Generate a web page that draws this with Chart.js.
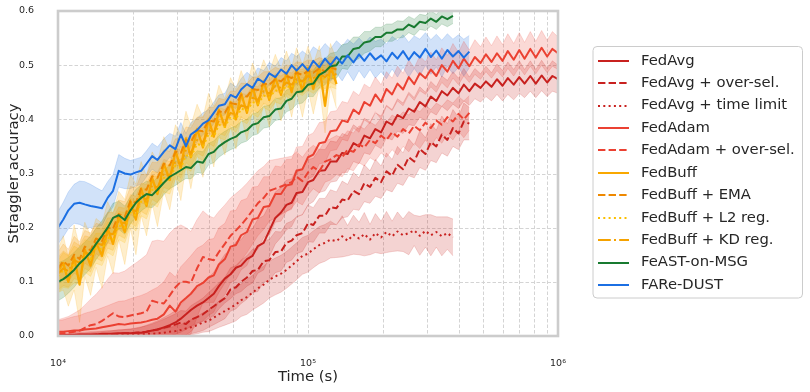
<!DOCTYPE html>
<html><head><meta charset="utf-8">
<script src="https://cdn.jsdelivr.net/npm/chart.js@4.4.1/dist/chart.umd.min.js"></script>
<style>html,body{margin:0;padding:0;background:#fff;}#wrap{width:810px;height:392px;}</style>
</head><body><div id="wrap"><canvas id="c" width="810" height="392"></canvas></div>
<script>
// ---- data (time in seconds, accuracy) ----
const TIMES = [10000,10500,11000,11600,12200,12800,13500,14200,15000,15800,
16600,17500,18500,19500,20500,21500,22600,23800,25000,26500,
28000,29500,31000,32500,34000,36000,38000,40000,42000,44000,
46500,49000,51500,54000,57000,60000,63000,66500,70000,74000,
78000,82000,86000,90000,95000,100000,105000,111000,117000,123000,
130000,137000,144000,152000,160000,168000,177000,186000,196000,206000,
217000,228000,240000,253000,266000,280000,295000,310000,326000,343000,
361000,380000,400000,420000,442000,465000,490000,515000,542000,570000,
600000,630000,665000,700000,735000,775000,815000,860000,905000,950000,
1000000];

const Y_TICKS = [0, 0.1, 0.2, 0.3, 0.4, 0.5, 0.6];
const X_GRID_TICKS = [10000,20000,30000,40000,50000,60000,70000,80000,90000,
100000,200000,300000,400000,500000,600000,700000,800000,900000,1000000];
const X_TICK_LABELS = {10000:'10\u2074', 100000:'10\u2075', 1000000:'10\u2076'};

const FEDAVG = [
0.002,0.002,0.002,0.002,0.003,0.003,0.003,0.003,0.004,0.004,
0.004,0.005,0.005,0.005,0.006,0.006,0.008,0.010,0.012,0.016,
0.020,0.025,0.032,0.040,0.048,0.056,0.062,0.070,0.078,0.092,
0.106,0.114,0.126,0.130,0.142,0.148,0.166,0.172,0.194,0.218,
0.228,0.242,0.246,0.264,0.266,0.284,0.288,0.305,0.306,0.322,
0.322,0.338,0.336,0.356,0.350,0.370,0.365,0.382,0.376,0.396,
0.390,0.408,0.402,0.420,0.414,0.432,0.424,0.442,0.434,0.452,
0.444,0.458,0.448,0.464,0.452,0.466,0.458,0.470,0.460,0.474,
0.462,0.476,0.464,0.478,0.466,0.480,0.466,0.481,0.468,0.480,
0.474];
const FEDAVG_SPREAD = [
0.003,0.003,0.003,0.004,0.004,0.004,0.005,0.005,0.005,0.006,
0.006,0.007,0.007,0.008,0.008,0.010,0.012,0.014,0.016,0.018,
0.020,0.022,0.025,0.028,0.030,0.032,0.035,0.038,0.040,0.042,
0.045,0.045,0.048,0.048,0.050,0.050,0.050,0.050,0.048,0.048,
0.046,0.046,0.044,0.044,0.042,0.042,0.040,0.040,0.038,0.038,
0.036,0.036,0.034,0.034,0.032,0.032,0.030,0.030,0.030,0.030,
0.028,0.030,0.028,0.030,0.026,0.028,0.026,0.028,0.026,0.028,
0.028,0.030,0.028,0.030,0.026,0.028,0.026,0.028,0.026,0.028,
0.028,0.030,0.028,0.030,0.026,0.028,0.026,0.028,0.026,0.028,
0.026];

const FEDAVG_OVERSEL = [
0.001,0.001,0.001,0.002,0.002,0.002,0.002,0.003,0.003,0.003,
0.004,0.004,0.005,0.005,0.006,0.007,0.008,0.010,0.012,0.015,
0.018,0.021,0.025,0.022,0.030,0.035,0.040,0.048,0.055,0.062,
0.070,0.086,0.090,0.100,0.108,0.120,0.122,0.138,0.140,0.155,
0.156,0.172,0.176,0.186,0.190,0.208,0.205,0.222,0.222,0.238,
0.236,0.252,0.250,0.268,0.262,0.282,0.275,0.292,0.284,0.304,
0.296,0.316,0.308,0.330,0.322,0.345,0.336,0.358,0.350,0.372,
0.362,0.384,0.374,0.396,0.392];
const FEDAVG_OVERSEL_SPREAD = [
0.002,0.002,0.002,0.003,0.003,0.003,0.004,0.004,0.005,0.005,
0.006,0.006,0.007,0.008,0.009,0.010,0.011,0.012,0.014,0.016,
0.018,0.020,0.022,0.024,0.026,0.028,0.030,0.032,0.034,0.036,
0.038,0.040,0.040,0.040,0.040,0.040,0.040,0.038,0.038,0.038,
0.036,0.036,0.036,0.034,0.034,0.034,0.032,0.032,0.032,0.032,
0.030,0.034,0.030,0.034,0.030,0.034,0.030,0.034,0.030,0.034,
0.030,0.034,0.030,0.034,0.030,0.034,0.030,0.034,0.030,0.034,
0.030,0.034,0.030,0.034,0.030];

const FEDAVG_TIMELIMIT = [
0.001,0.001,0.001,0.001,0.001,0.001,0.001,0.001,0.002,0.002,
0.002,0.002,0.002,0.003,0.003,0.003,0.004,0.004,0.005,0.006,
0.008,0.009,0.011,0.014,0.016,0.020,0.025,0.028,0.034,0.040,
0.046,0.052,0.058,0.066,0.072,0.080,0.088,0.095,0.104,0.110,
0.115,0.122,0.130,0.138,0.148,0.152,0.160,0.168,0.172,0.178,
0.175,0.184,0.176,0.187,0.180,0.188,0.178,0.190,0.182,0.192,
0.184,0.193,0.186,0.190,0.195,0.185,0.194,0.186,0.192,0.184,
0.190,0.182];
const FEDAVG_TIMELIMIT_SPREAD = [
0.002,0.002,0.002,0.002,0.002,0.002,0.002,0.002,0.002,0.002,
0.002,0.003,0.003,0.003,0.004,0.004,0.005,0.005,0.006,0.007,
0.008,0.009,0.010,0.012,0.014,0.016,0.018,0.020,0.022,0.024,
0.026,0.028,0.030,0.030,0.032,0.032,0.034,0.034,0.034,0.034,
0.034,0.034,0.034,0.034,0.034,0.034,0.034,0.034,0.034,0.034,
0.030,0.038,0.028,0.036,0.030,0.040,0.028,0.036,0.030,0.038,
0.028,0.036,0.030,0.040,0.028,0.036,0.030,0.038,0.028,0.036,
0.030,0.034];

const FEDADAM = [
0.008,0.008,0.009,0.010,0.010,0.012,0.013,0.014,0.016,0.018,
0.020,0.022,0.021,0.023,0.024,0.025,0.027,0.030,0.032,0.040,
0.056,0.045,0.062,0.070,0.078,0.092,0.098,0.108,0.112,0.132,
0.142,0.165,0.168,0.186,0.192,0.215,0.218,0.238,0.240,0.262,
0.262,0.278,0.280,0.305,0.308,0.330,0.335,0.356,0.358,0.378,
0.380,0.398,0.395,0.418,0.410,0.432,0.425,0.446,0.432,0.456,
0.446,0.466,0.455,0.478,0.465,0.485,0.476,0.492,0.480,0.500,
0.488,0.508,0.494,0.512,0.498,0.515,0.504,0.520,0.506,0.522,
0.508,0.526,0.510,0.528,0.512,0.530,0.514,0.532,0.516,0.530,
0.522];
const FEDADAM_SPREAD = [
0.020,0.022,0.024,0.026,0.028,0.030,0.032,0.034,0.036,0.038,
0.040,0.042,0.044,0.046,0.048,0.050,0.052,0.055,0.058,0.060,
0.062,0.064,0.066,0.068,0.070,0.070,0.070,0.070,0.068,0.068,
0.066,0.066,0.064,0.064,0.062,0.060,0.058,0.056,0.054,0.052,
0.050,0.048,0.046,0.044,0.042,0.040,0.040,0.038,0.038,0.036,
0.036,0.035,0.035,0.034,0.034,0.033,0.033,0.032,0.032,0.032,
0.030,0.032,0.030,0.032,0.030,0.032,0.030,0.032,0.030,0.032,
0.030,0.032,0.030,0.032,0.030,0.032,0.030,0.032,0.030,0.032,
0.030,0.032,0.030,0.032,0.030,0.032,0.030,0.032,0.030,0.032,
0.030];

const FEDADAM_OVERSEL = [
0.005,0.005,0.006,0.008,0.010,0.015,0.020,0.022,0.028,0.035,
0.042,0.036,0.035,0.038,0.040,0.042,0.045,0.065,0.062,0.060,
0.075,0.090,0.100,0.100,0.098,0.125,0.146,0.142,0.140,0.155,
0.170,0.185,0.195,0.205,0.218,0.232,0.245,0.255,0.268,0.272,
0.276,0.280,0.284,0.294,0.286,0.302,0.312,0.304,0.322,0.326,
0.334,0.330,0.344,0.340,0.354,0.348,0.362,0.356,0.370,0.362,
0.376,0.368,0.382,0.374,0.388,0.380,0.394,0.384,0.398,0.390,
0.404,0.396,0.410,0.400,0.412];
const FEDADAM_OVERSEL_SPREAD = [
0.025,0.028,0.030,0.034,0.038,0.042,0.048,0.055,0.062,0.070,
0.075,0.080,0.085,0.090,0.095,0.100,0.105,0.110,0.115,0.115,
0.115,0.110,0.105,0.100,0.095,0.090,0.085,0.080,0.078,0.075,
0.072,0.070,0.068,0.066,0.064,0.062,0.060,0.058,0.056,0.054,
0.052,0.050,0.048,0.046,0.044,0.042,0.040,0.040,0.038,0.038,
0.036,0.036,0.035,0.035,0.034,0.034,0.033,0.033,0.032,0.032,
0.032,0.034,0.032,0.034,0.032,0.034,0.032,0.034,0.032,0.034,
0.032,0.034,0.032,0.034,0.032];

const FEDBUFF = [
0.120,0.135,0.100,0.145,0.095,0.160,0.130,0.172,0.148,0.198,
0.170,0.222,0.192,0.248,0.215,0.272,0.240,0.292,0.262,0.318,
0.288,0.342,0.310,0.365,0.330,0.382,0.348,0.400,0.368,0.418,
0.386,0.432,0.400,0.448,0.412,0.460,0.426,0.470,0.436,0.478,
0.445,0.486,0.450,0.492,0.452,0.495,0.456,0.498,0.425,0.500,
0.465];
const FEDBUFF_SPREAD = [
0.040,0.050,0.045,0.060,0.070,0.050,0.055,0.045,0.060,0.050,
0.055,0.045,0.060,0.050,0.065,0.050,0.055,0.048,0.060,0.050,
0.055,0.048,0.060,0.050,0.058,0.046,0.055,0.048,0.056,0.045,
0.052,0.045,0.055,0.042,0.050,0.044,0.052,0.040,0.050,0.042,
0.048,0.040,0.046,0.040,0.048,0.040,0.046,0.038,0.050,0.040,
0.045];
const FEDBUFF_EMA = [
0.125,0.138,0.130,0.150,0.142,0.165,0.158,0.180,0.175,0.200,
0.198,0.225,0.220,0.250,0.246,0.272,0.270,0.295,0.292,0.318,
0.315,0.340,0.338,0.362,0.358,0.380,0.378,0.398,0.396,0.415,
0.412,0.430,0.428,0.445,0.442,0.456,0.454,0.466,0.464,0.474,
0.470,0.480,0.476,0.486,0.482,0.490,0.486,0.494,0.488,0.496,
0.492];
const FEDBUFF_L2 = [
0.110,0.122,0.118,0.132,0.128,0.148,0.142,0.162,0.160,0.182,
0.178,0.204,0.200,0.228,0.222,0.248,0.244,0.270,0.266,0.292,
0.288,0.314,0.310,0.334,0.330,0.355,0.350,0.372,0.368,0.390,
0.386,0.405,0.400,0.420,0.416,0.432,0.428,0.444,0.440,0.454,
0.450,0.462,0.458,0.470,0.466,0.474,0.470,0.478,0.474,0.480,
0.476];
const FEDBUFF_KD = [
0.115,0.125,0.120,0.140,0.135,0.155,0.150,0.172,0.168,0.190,
0.188,0.212,0.208,0.235,0.230,0.256,0.252,0.278,0.274,0.300,
0.296,0.322,0.318,0.344,0.338,0.362,0.358,0.380,0.376,0.398,
0.394,0.412,0.408,0.426,0.422,0.440,0.436,0.452,0.448,0.462,
0.458,0.468,0.464,0.474,0.470,0.480,0.476,0.484,0.478,0.488,
0.482];
const FEDBUFF_VARIANT_SPREAD = [
0.030,0.032,0.030,0.034,0.032,0.030,0.032,0.028,0.030,0.028,
0.030,0.026,0.028,0.026,0.028,0.026,0.028,0.026,0.028,0.026,
0.026,0.024,0.026,0.024,0.026,0.024,0.026,0.024,0.026,0.024,
0.024,0.022,0.024,0.022,0.024,0.022,0.024,0.022,0.024,0.022,
0.022,0.020,0.022,0.020,0.022,0.020,0.022,0.020,0.022,0.020,
0.020];

const FEAST = [
0.100,0.105,0.112,0.122,0.134,0.143,0.155,0.170,0.185,0.200,
0.218,0.223,0.214,0.232,0.246,0.255,0.262,0.260,0.270,0.283,
0.294,0.300,0.306,0.312,0.310,0.322,0.320,0.336,0.340,0.350,
0.358,0.364,0.368,0.376,0.380,0.390,0.393,0.404,0.406,0.418,
0.420,0.434,0.438,0.450,0.452,0.464,0.466,0.482,0.488,0.498,
0.500,0.516,0.516,0.530,0.532,0.542,0.544,0.552,0.552,0.560,
0.560,0.566,0.566,0.575,0.570,0.580,0.578,0.586,0.580,0.590,
0.585,0.591];
const FEAST_SPREAD = [
0.035,0.034,0.033,0.032,0.031,0.030,0.030,0.029,0.028,0.028,
0.027,0.026,0.026,0.025,0.025,0.024,0.024,0.023,0.023,0.022,
0.022,0.022,0.021,0.021,0.020,0.020,0.020,0.020,0.020,0.020,
0.020,0.020,0.020,0.020,0.020,0.020,0.020,0.020,0.020,0.020,
0.020,0.020,0.020,0.022,0.022,0.022,0.024,0.024,0.024,0.024,
0.024,0.022,0.024,0.022,0.020,0.020,0.018,0.018,0.018,0.016,
0.016,0.016,0.015,0.015,0.015,0.014,0.014,0.014,0.014,0.014,
0.014,0.014];

const FAREDUST = [
0.200,0.215,0.232,0.244,0.246,0.243,0.240,0.238,0.236,0.255,
0.268,0.305,0.300,0.298,0.302,0.305,0.318,0.332,0.325,0.340,
0.352,0.345,0.372,0.350,0.372,0.380,0.392,0.398,0.412,0.425,
0.428,0.445,0.440,0.455,0.465,0.458,0.475,0.468,0.485,0.478,
0.492,0.484,0.500,0.490,0.502,0.490,0.508,0.496,0.512,0.500,
0.515,0.503,0.518,0.505,0.520,0.508,0.522,0.510,0.518,0.507,
0.523,0.512,0.526,0.510,0.524,0.514,0.530,0.515,0.527,0.512,
0.528,0.516,0.526,0.514,0.525];
const FAREDUST_SPREAD = [
0.030,0.032,0.034,0.036,0.040,0.042,0.040,0.036,0.032,0.030,
0.030,0.030,0.028,0.026,0.025,0.025,0.024,0.024,0.024,0.024,
0.022,0.024,0.022,0.024,0.022,0.022,0.020,0.020,0.020,0.020,
0.020,0.022,0.020,0.020,0.022,0.020,0.020,0.022,0.020,0.020,
0.022,0.024,0.022,0.026,0.024,0.028,0.026,0.030,0.028,0.030,
0.030,0.032,0.030,0.034,0.030,0.032,0.030,0.034,0.030,0.032,
0.030,0.034,0.030,0.032,0.030,0.034,0.030,0.032,0.030,0.034,
0.030,0.032,0.030,0.034,0.030];

const LABELS = ['FedAvg','FedAvg + over-sel.','FedAvg + time limit','FedAdam','FedAdam + over-sel.',
  'FedBuff','FedBuff + EMA','FedBuff + L2 reg.','FedBuff + KD reg.','FeAST-on-MSG','FARe-DUST'];
const VALUES = [FEDAVG, FEDAVG_OVERSEL, FEDAVG_TIMELIMIT, FEDADAM, FEDADAM_OVERSEL,
  FEDBUFF, FEDBUFF_EMA, FEDBUFF_L2, FEDBUFF_KD, FEAST, FAREDUST];
const SPREADS = [FEDAVG_SPREAD, FEDAVG_OVERSEL_SPREAD, FEDAVG_TIMELIMIT_SPREAD, FEDADAM_SPREAD, FEDADAM_OVERSEL_SPREAD,
  FEDBUFF_SPREAD, FEDBUFF_VARIANT_SPREAD, FEDBUFF_VARIANT_SPREAD, FEDBUFF_VARIANT_SPREAD, FEAST_SPREAD, FAREDUST_SPREAD];

// ---- styles ----
const DASHED = [7.4, 3.2], DOTTED = [2, 3.3], DASHDOT = [12.8, 3.2, 2, 3.2];
const COLORS = ['#c8211f','#c8211f','#c8211f','#eb4132','#eb4132',
  '#f9a800','#ee8800','#fbbf00','#f5a200','#187a30','#1b6fe3'];
const DASHES = [[], DASHED, DOTTED, [], DASHED, [], DASHED, DOTTED, DASHDOT, [], []];
const WIDTHS = [2, 2, 2, 2, 2, 2.3, 2, 2, 2, 2, 2];

function rgba(hex, a) {
  const n = parseInt(hex.slice(1), 16);
  return `rgba(${(n>>16)&255},${(n>>8)&255},${n&255},${a})`;
}

const datasets = [];
// bands
VALUES.forEach((vals, k) => {
  const sp = SPREADS[k];
  const up = vals.map((v, i) => ({x: TIMES[i], y: v + sp[i]}));
  const lo = vals.map((v, i) => ({x: TIMES[i], y: Math.max(0, v - sp[i])}));
  const upIdx = datasets.length;
  const edge = rgba(COLORS[k], 0.22);
  datasets.push({data: up, borderColor: edge, borderWidth: 0.8, pointRadius: 0, fill: false, order: 200 + k, tension: 0});
  datasets.push({data: lo, borderColor: edge, borderWidth: 0.8, pointRadius: 0, order: 200 + k, tension: 0,
    fill: {target: upIdx, above: rgba(COLORS[k], 0.2), below: rgba(COLORS[k], 0.2)}});
});
// lines
VALUES.forEach((vals, k) => {
  datasets.push({
    label: LABELS[k],
    data: vals.map((v, i) => ({x: TIMES[i], y: v})),
    borderColor: COLORS[k], borderWidth: WIDTHS[k], borderDash: DASHES[k],
    borderJoinStyle: 'round', borderCapStyle: 'butt',
    pointRadius: 0, fill: false, tension: 0, order: 100 - k
  });
});

const TEXT = '#262626';
const FONT = "'DejaVu Sans', sans-serif";

const gridPlugin = {
  id: 'gridPlugin',
  beforeDatasetsDraw(chart) {
    const {ctx, chartArea: a, scales: {x, y}} = chart;
    ctx.save();
    ctx.strokeStyle = '#d4d4d4';
    ctx.lineWidth = 1;
    ctx.setLineDash([3.5, 2]);
    Y_TICKS.forEach(v => {
      const py = Math.round(y.getPixelForValue(v)) + 0.5;
      ctx.beginPath(); ctx.moveTo(a.left, py); ctx.lineTo(a.right, py); ctx.stroke();
    });
    X_GRID_TICKS.forEach(v => {
      const px = Math.round(x.getPixelForValue(v)) + 0.5;
      ctx.beginPath(); ctx.moveTo(px, a.top); ctx.lineTo(px, a.bottom); ctx.stroke();
    });
    ctx.restore();
  },
  afterDatasetsDraw(chart) {
    const {ctx, chartArea: a} = chart;
    ctx.save();
    ctx.strokeStyle = '#cccccc';
    ctx.lineWidth = 2.6;
    ctx.strokeRect(a.left, a.top, a.right - a.left, a.bottom - a.top);
    ctx.restore();
  }
};

const legendPlugin = {
  id: 'customLegend',
  afterDraw(chart) {
    const ctx = chart.ctx;
    ctx.save();
    const bx = 593, by = 46.5, bw = 209.5, bh = 251.5, r = 4;
    ctx.beginPath();
    ctx.moveTo(bx + r, by); ctx.lineTo(bx + bw - r, by); ctx.arcTo(bx + bw, by, bx + bw, by + r, r);
    ctx.lineTo(bx + bw, by + bh - r); ctx.arcTo(bx + bw, by + bh, bx + bw - r, by + bh, r);
    ctx.lineTo(bx + r, by + bh); ctx.arcTo(bx, by + bh, bx, by + bh - r, r);
    ctx.lineTo(bx, by + r); ctx.arcTo(bx, by, bx + r, by, r);
    ctx.closePath();
    ctx.fillStyle = 'rgba(255,255,255,0.85)';
    ctx.fill();
    ctx.strokeStyle = '#cccccc'; ctx.lineWidth = 1; ctx.stroke();
    ctx.font = `14.8px ${FONT}`;
    ctx.textBaseline = 'middle';
    ctx.textAlign = 'left';
    LABELS.forEach((lab, k) => {
      const yy = 60.7 + k * 22.43;
      ctx.beginPath();
      ctx.setLineDash(DASHES[k]);
      ctx.strokeStyle = COLORS[k]; ctx.lineWidth = 2;
      ctx.moveTo(598, Math.round(yy)); ctx.lineTo(629, Math.round(yy));
      ctx.stroke();
      ctx.setLineDash([]);
      ctx.fillStyle = TEXT;
      ctx.fillText(lab, 641, yy);
    });
    ctx.restore();
  }
};

new Chart(document.getElementById('c'), {
  type: 'line',
  data: {datasets},
  plugins: [gridPlugin, legendPlugin],
  options: {
    responsive: false, animation: false, devicePixelRatio: 1,
    layout: {padding: {top: 11, right: 252, left: 0, bottom: 0}},
    plugins: {legend: {display: false}, tooltip: {enabled: false}},
    scales: {
      x: {
        type: 'logarithmic', min: 10000, max: 1000000,
        afterBuildTicks: s => { s.ticks = X_GRID_TICKS.map(v => ({value: v})); },
        afterFit: s => { s.height = 56; s.paddingLeft = 4; s.paddingRight = 4; },
        grid: {display: false}, border: {display: false},
        ticks: {autoSkip: false, maxRotation: 0, minRotation: 0, padding: 14, color: TEXT,
          font: {family: FONT, size: 9.5},
          callback: (v) => X_TICK_LABELS[v] || ''},
        title: {display: true, text: 'Time (s)', color: TEXT, font: {family: FONT, size: 14.8},
          padding: {top: 0, bottom: 6}}
      },
      y: {
        min: 0, max: 0.6,
        afterBuildTicks: s => { s.ticks = Y_TICKS.map(v => ({value: v})); },
        afterFit: s => { s.width = 58; s.paddingTop = 4; s.paddingBottom = 4; },
        grid: {display: false}, border: {display: false},
        ticks: {padding: 16, color: TEXT, font: {family: FONT, size: 9.5},
          callback: (v) => Number(v).toFixed(1)},
        title: {display: true, text: 'Straggler accuracy', color: TEXT, font: {family: FONT, size: 14.8},
          padding: {top: 5, bottom: 0}}
      }
    }
  }
});
</script>
</body></html>
